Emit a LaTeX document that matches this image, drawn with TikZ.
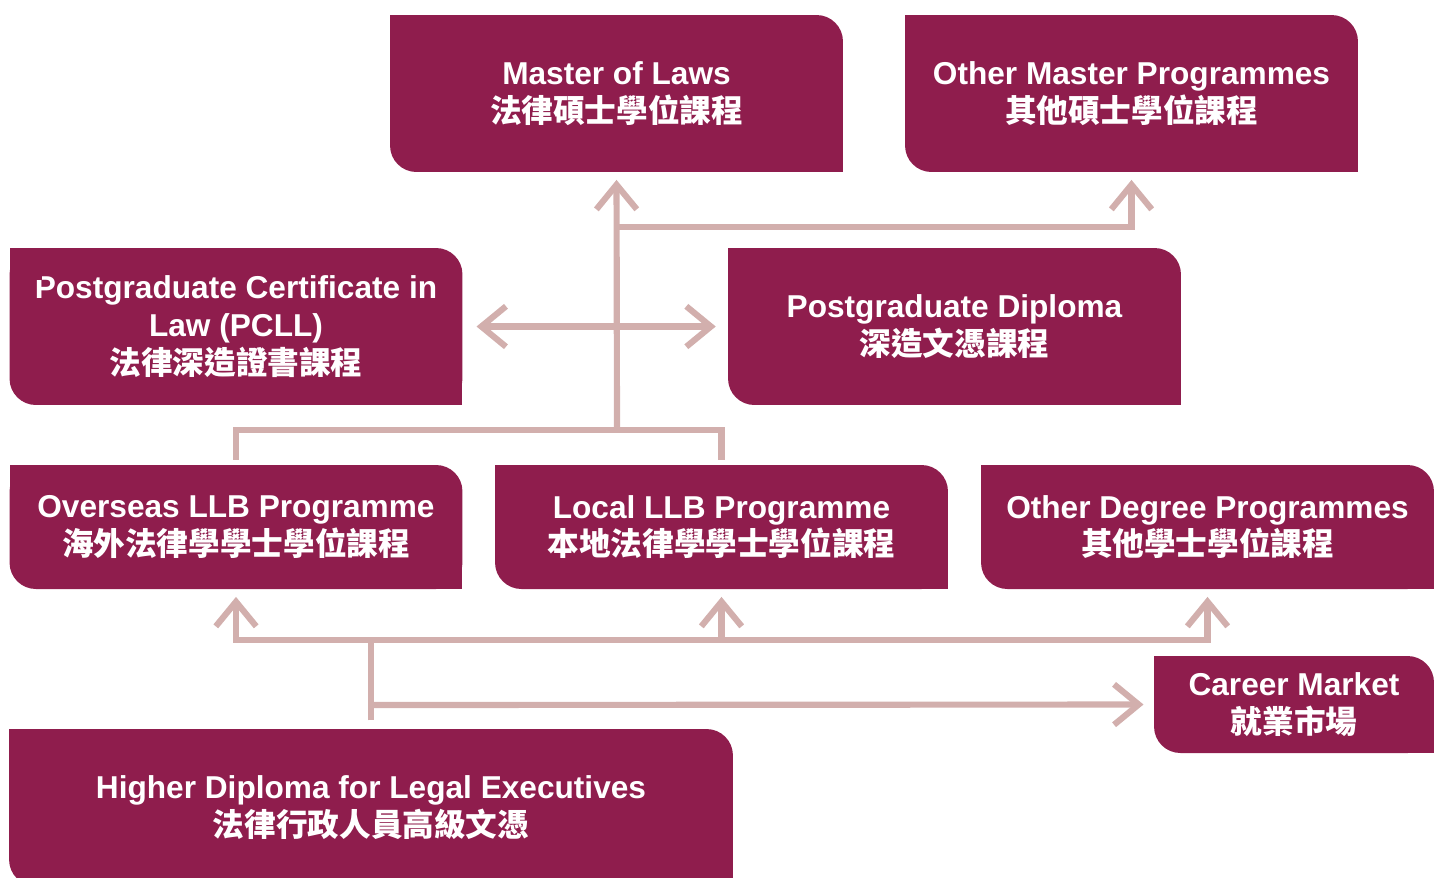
\documentclass[tikz,border=0pt]{standalone}
\usepackage{fontspec}
\setmainfont{Liberation Sans}
\newfontfamily\hanfont{Noto Sans CJK TC}
\usetikzlibrary{arrows.meta}
\definecolor{lawred}{RGB}{143,29,77}
\definecolor{linkpink}{RGB}{210,175,173}
\newcommand{\zh}[1]{{\hanfont\bfseries #1}}

\begin{document}
\begin{tikzpicture}[x=0.02cm,y=-0.02cm,
    prog/.style={fill=lawred,rounded corners=15pt,text=white,inner sep=0pt,outer sep=0pt,
      align=center,font=\bfseries\fontsize{18}{21.5}\selectfont},
    tall/.style={minimum width=9.06cm,minimum height=3.14cm},
    short/.style={minimum width=9.06cm,minimum height=2.48cm},
    link/.style={draw=linkpink,line width=3.5pt},
    barb/.tip={Straight Barb[length=14pt,width=23pt]},
    arr/.style={link,-barb}]

  \clip (0,0) rectangle (1442,877);

  \begin{scope}[every node/.style={prog}]
    \node[tall]  (llm)  at (616.5,93.5)  {Master of Laws\\\zh{法律碩士學位課程}};
    \node[tall]  (oth)  at (1131.5,93.5) {Other Master Programmes\\\zh{其他碩士學位課程}};
    \node[tall]  (pcll) at (236,326.5)   {Postgraduate Certificate in\\Law (PCLL)\\\zh{法律深造證書課程}};
    \node[tall]  (pgd)  at (954.5,326.5) {Postgraduate Diploma\\\zh{深造文憑課程}};
    \node[short] (ovs)  at (236,527)     {Overseas LLB Programme\\\zh{海外法律學學士學位課程}};
    \node[short] (loc)  at (721.5,527)   {Local LLB Programme\\\zh{本地法律學學士學位課程}};
    \node[short] (odeg) at (1207.5,527)  {Other Degree Programmes\\\zh{其他學士學位課程}};
    \node[minimum width=5.6cm,minimum height=1.94cm] (job) at (1294,704.5) {Career Market\\\zh{就業市場}};
    \node[minimum width=14.48cm,minimum height=3.14cm] (hd) at (371,807.5) {Higher Diploma for Legal Executives\\\zh{法律行政人員高級文憑}};
  \end{scope}

  % square corners top left and bottom right
  \foreach \n in {llm,oth,pcll,pgd,ovs,loc,odeg,job,hd} {
    \fill[lawred] (\n.north west) rectangle ++(32,32);
    \fill[lawred] (\n.south east) rectangle ++(-32,-32);
  }

  \coordinate (hub)   at (617,430);
  \coordinate (split) at (617,227);
  \coordinate (fork)  at (371,640);
  \coordinate (feed)  at (371,705);

  \begin{scope}[shorten >=4.5pt]
    \draw[link,shorten <=3pt,shorten >=3pt] (ovs.north) |- (hub) -| (loc.north);
    \draw[arr] (hub) -- (llm.south);
    \draw[arr] (split) -| (oth.south);
    \draw[link,barb-barb,shorten <=8pt,shorten >=7pt] (pcll.east) -- (pgd.west);
    \draw[link,shorten <=5pt,shorten >=0pt] (hd.north) -- (fork);
    \draw[arr] (fork) -| (ovs.south);
    \draw[arr] (fork) -| (odeg.south);
    \draw[arr] (fork -| loc.south) -- (loc.south);
    \draw[arr,shorten >=6pt] (feed) -- (job.west);
  \end{scope}

\end{tikzpicture}
\end{document}
